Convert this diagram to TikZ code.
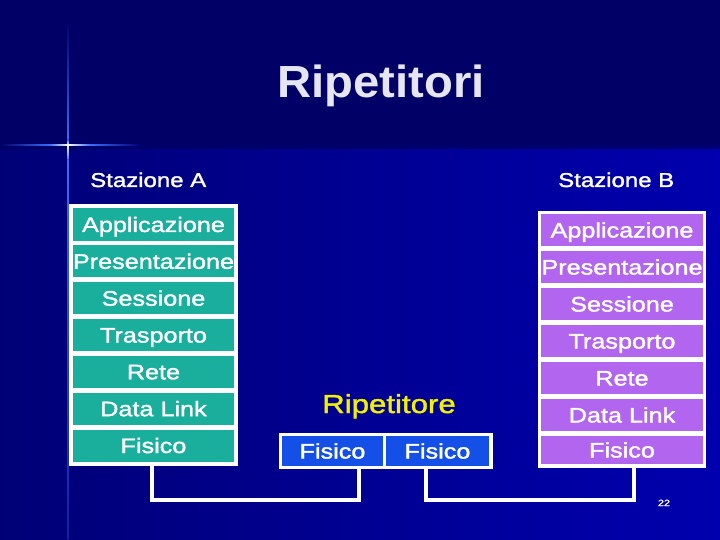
\documentclass[tikz,border=0pt]{standalone}
\usepackage{fontspec}
\newfontfamily\lblfont[FakeStretch=1.2,FakeBold=1.6]{Liberation Sans}
\newfontfamily\ttlfont[FakeStretch=1.05]{Liberation Sans}
\definecolor{bgtop}{HTML}{000066}
\definecolor{bglowL}{HTML}{000076}
\definecolor{bglowR}{HTML}{0000AE}
\definecolor{tealbox}{HTML}{1AAE9C}
\definecolor{purplebox}{HTML}{B266F0}
\definecolor{bluebox}{HTML}{1450E8}
\definecolor{titlecol}{HTML}{E6E6F2}
\definecolor{yel}{HTML}{F2F200}
\definecolor{glint}{HTML}{3A6CFF}
\begin{document}
\begin{tikzpicture}[x=1pt,y=-1pt,
  frame/.style={fill=white,draw=none,inner sep=0pt,rectangle},
  layer/.style={draw=none,inner sep=0pt,rectangle,text=white,
     font=\lblfont\fontsize{21}{24}\selectfont,text height=15pt,text depth=0pt},
  tealL/.style={layer,fill=tealbox,minimum width=161pt,minimum height=32pt},
  purpL/.style={layer,fill=purplebox,minimum width=162pt,minimum height=32pt},
  blueL/.style={layer,fill=bluebox,minimum height=30pt},
  station/.style={text=white,inner sep=0pt,anchor=base west,
     font=\lblfont\fontsize{20}{24}\selectfont},
  conn/.style={draw=white,line width=4pt,line join=miter}]
\useasboundingbox (0,0) rectangle (720,540);
% background
\fill[bgtop] (0,0) rectangle (720,147);
\shade[left color=bglowL,right color=bglowR] (0,147) rectangle (720,540);
\shade[left color=bgtop,right color=bglowL!60!bgtop] (0,145) rectangle (720,149);
% glint
\shade[top color=bgtop,bottom color=glint] (67.3,20) rectangle (68.7,140);
\shade[top color=glint,bottom color=white] (67.3,140) rectangle (68.7,145);
\shade[top color=white,bottom color=glint] (67.3,145) rectangle (68.7,160);
\shade[top color=glint,bottom color=bglowL!70!glint] (67.3,160) rectangle (68.7,540);
\shade[left color=bgtop,right color=glint] (0,144.3) rectangle (50,145.7);
\shade[left color=glint,right color=white] (50,144.3) rectangle (68,145.7);
\shade[left color=white,right color=glint] (68,144.3) rectangle (90,145.7);
\shade[left color=glint,right color=bglowL] (90,144.3) rectangle (140,145.7);
% title
\node[text=titlecol,font=\ttlfont\bfseries\fontsize{45}{50}\selectfont,inner sep=0pt,anchor=base] (title) at (381,98) {Ripetitori};
\node[station] (stA) at (90,187) {Stazione A};
\node[station] (stB) at (558,187) {Stazione B};
% Stazione A stack
\node[frame,minimum width=169pt,minimum height=261pt] (stackA) at (153.5,335) {};
\node[tealL] (a1) at (153.5,224.5) {Applicazione};
\node[tealL] (a2) at (153.5,261.3) {Presentazione};
\node[tealL] (a3) at (153.5,298.2) {Sessione};
\node[tealL] (a4) at (153.5,335.0) {Trasporto};
\node[tealL] (a5) at (153.5,371.8) {Rete};
\node[tealL] (a6) at (153.5,408.7) {Data Link};
\node[tealL] (a7) at (153.5,445.5) {Fisico};
% Stazione B stack
\node[frame,minimum width=168pt,minimum height=257pt] (stackB) at (622,339.5) {};
\node[purpL] (b1) at (622,230) {Applicazione};
\node[purpL] (b2) at (622,267) {Presentazione};
\node[purpL] (b3) at (622,304) {Sessione};
\node[purpL] (b4) at (622,341) {Trasporto};
\node[purpL] (b5) at (622,378) {Rete};
\node[purpL] (b6) at (622,415) {Data Link};
\node[purpL,minimum height=28pt] (b7) at (622,450) {Fisico};
% Ripetitore
\node[text=yel,font=\lblfont\fontsize{26}{30}\selectfont,inner sep=0pt,anchor=base] (rip) at (389,413) {Ripetitore};
\node[frame,minimum width=214pt,minimum height=36pt] (stackM) at (386,451) {};
\node[blueL,minimum width=101pt] (m1) at (332.5,451) {Fisico};
\node[blueL,minimum width=103pt] (m2) at (437.5,451) {Fisico};
% connectors
\coordinate (pA) at (152,465.5);
\coordinate (pM1) at (359,469);
\coordinate (pM2) at (426,469);
\coordinate (pB) at (634,468);
\coordinate (bus) at (0,500);
\draw[conn] (pA) -- (pA |- bus) -| (pM1);
\draw[conn] (pM2) -- (pM2 |- bus) -| (pB);
% page number
\node[text=white,font=\lblfont\fontsize{9}{10}\selectfont,inner sep=0pt,anchor=base] (pg) at (664,506) {22};
\end{tikzpicture}
\end{document}
